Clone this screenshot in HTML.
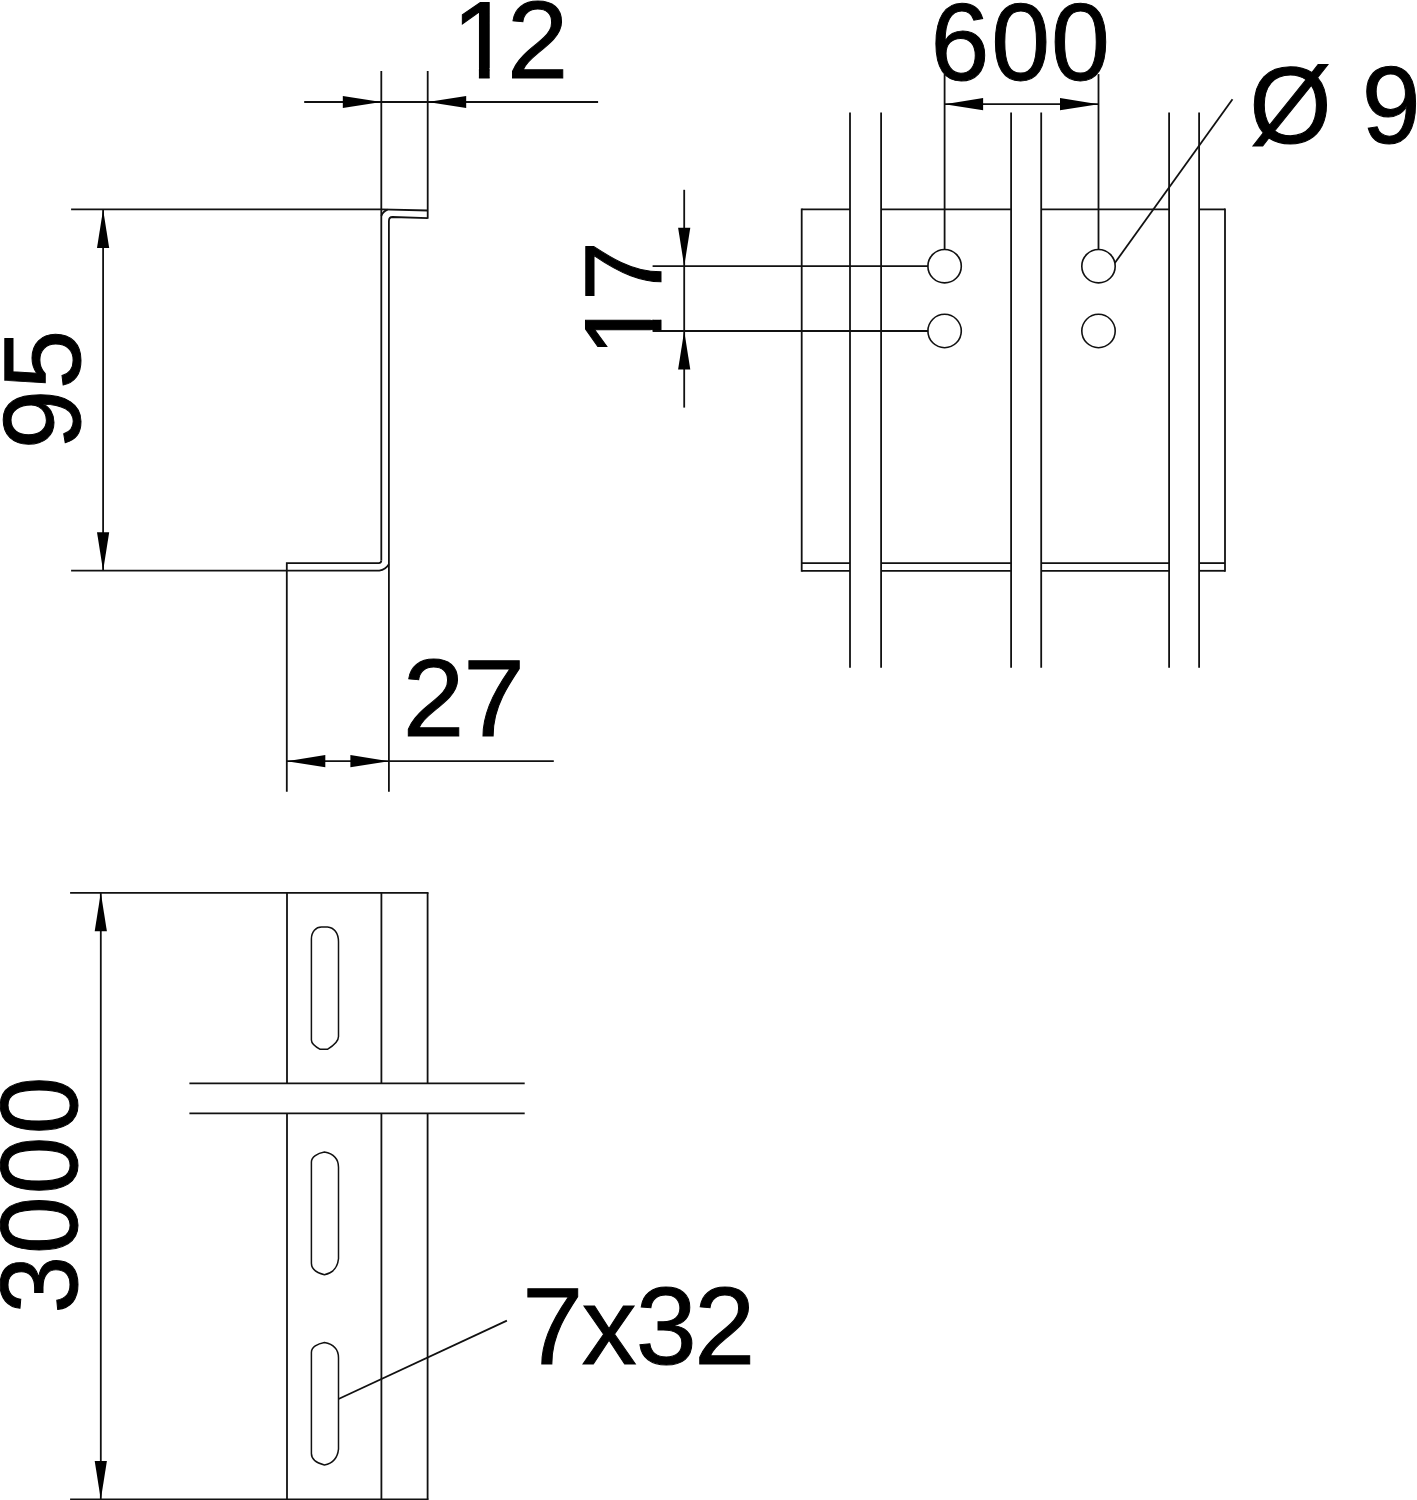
<!DOCTYPE html>
<html lang="en">
<head>
<meta charset="utf-8">
<title>Technical drawing</title>
<style>
html,body{margin:0;padding:0;background:#fff;}
body{width:1417px;height:1500px;overflow:hidden;}
svg{display:block;}
.g line,.g path,.g circle,.g rect{stroke:#111;stroke-width:1.8;fill:none;stroke-linecap:butt;}
.g .a{fill:#000;stroke:none;}
.g .s{stroke-width:1.5;}
.g circle{stroke-width:1.6;}
text{font-family:"Liberation Sans",sans-serif;font-size:108px;fill:#000;stroke:#000;stroke-width:1.0px;stroke-linejoin:miter;}
</style>
</head>
<body>
<svg width="1417" height="1500" viewBox="0 0 1417 1500">
<defs>
<clipPath id="c1" clipPathUnits="userSpaceOnUse">
<rect x="-20" y="-130" width="420" height="120.4"/>
<rect x="26.65" y="-130" width="10.55" height="140"/>
<rect x="56.5" y="-130" width="344" height="160"/>
</clipPath>
</defs>
<rect width="1417" height="1500" fill="#fff"/>
<g class="g">
<line x1="381.3" y1="71" x2="381.3" y2="560.6"/>
<line x1="427.7" y1="71" x2="427.7" y2="218.7"/>
<line x1="304.2" y1="102.0" x2="598.1" y2="102.0"/>
<polygon class="a" points="381.3,102.0 342.80,108.10 342.80,95.90"/>
<polygon class="a" points="427.7,102.0 466.20,95.90 466.20,108.10"/>
<line x1="71.1" y1="209.4" x2="381.3" y2="209.4"/>
<line x1="71.1" y1="570.7" x2="286.8" y2="570.7"/>
<line x1="103.1" y1="209.4" x2="103.1" y2="570.7"/>
<polygon class="a" points="103.1,209.4 109.20,247.90 97.00,247.90"/>
<polygon class="a" points="103.1,570.7 97.00,532.20 109.20,532.20"/>
<path d="M381.3,209.4 L427.7,210.5"/>
<path d="M427.7,218.2 L392.5,217.0 Q388.9,217.0 388.9,221.2 L388.9,791.8"/>
<path d="M381.3,215.8 Q383.1,211.2 387.6,209.6"/>
<path d="M286.8,791.8 L286.8,563.1 L378.8,563.1 Q381.3,563.1 381.3,560.6"/>
<path d="M286.8,570.7 L379.3,570.7 Q385.6,569.6 388.9,564.2"/>
<line x1="286.8" y1="761.2" x2="553.8" y2="761.2"/>
<polygon class="a" points="286.8,761.2 325.30,755.10 325.30,767.30"/>
<polygon class="a" points="388.9,761.2 350.40,767.30 350.40,755.10"/>
<line x1="850" y1="112.4" x2="850" y2="667.8"/>
<line x1="881.1" y1="112.4" x2="881.1" y2="667.8"/>
<line x1="1011.1" y1="112.4" x2="1011.1" y2="667.8"/>
<line x1="1041.2" y1="112.4" x2="1041.2" y2="667.8"/>
<line x1="1169.1" y1="112.4" x2="1169.1" y2="667.8"/>
<line x1="1199.1" y1="112.4" x2="1199.1" y2="667.8"/>
<line x1="801.7" y1="209.4" x2="850" y2="209.4"/>
<line x1="881.1" y1="209.4" x2="1011.1" y2="209.4"/>
<line x1="1041.2" y1="209.4" x2="1169.1" y2="209.4"/>
<line x1="1199.1" y1="209.4" x2="1225" y2="209.4"/>
<line x1="801.7" y1="563.1" x2="850" y2="563.1"/>
<line x1="881.1" y1="563.1" x2="1011.1" y2="563.1"/>
<line x1="1041.2" y1="563.1" x2="1169.1" y2="563.1"/>
<line x1="1199.1" y1="563.1" x2="1225" y2="563.1"/>
<line x1="801.7" y1="570.8" x2="850" y2="570.8"/>
<line x1="881.1" y1="570.8" x2="1011.1" y2="570.8"/>
<line x1="1041.2" y1="570.8" x2="1169.1" y2="570.8"/>
<line x1="1199.1" y1="570.8" x2="1225" y2="570.8"/>
<line x1="801.7" y1="208.5" x2="801.7" y2="571.6999999999999"/>
<line x1="1225" y1="208.5" x2="1225" y2="571.6999999999999"/>
<circle cx="944.6" cy="266.2" r="16.7"/>
<circle cx="944.6" cy="331" r="16.7"/>
<circle cx="1098.5" cy="266.2" r="16.7"/>
<circle cx="1098.5" cy="331" r="16.7"/>
<line x1="944.6" y1="74.1" x2="944.6" y2="249.8"/>
<line x1="1098.5" y1="74.1" x2="1098.5" y2="249.8"/>
<line x1="944.6" y1="104.2" x2="1098.5" y2="104.2"/>
<polygon class="a" points="944.6,104.2 983.10,98.10 983.10,110.30"/>
<polygon class="a" points="1098.5,104.2 1060.00,110.30 1060.00,98.10"/>
<line x1="652.6" y1="266.2" x2="928.2" y2="266.2"/>
<line x1="652.6" y1="331" x2="928.2" y2="331"/>
<line x1="684.2" y1="189.8" x2="684.2" y2="407.6"/>
<polygon class="a" points="684.2,266.2 678.10,227.70 690.30,227.70"/>
<polygon class="a" points="684.2,331 690.30,369.50 678.10,369.50"/>
<line x1="1232.5" y1="99.3" x2="1114.8" y2="263"/>
<line x1="70.1" y1="892.8" x2="428.5" y2="892.8"/>
<line x1="70.1" y1="1499.5" x2="428.5" y2="1499.5"/>
<line x1="100.8" y1="892.8" x2="100.8" y2="1499.5"/>
<polygon class="a" points="100.8,892.8 106.90,931.30 94.70,931.30"/>
<polygon class="a" points="100.8,1499.5 94.70,1461.00 106.90,1461.00"/>
<line x1="287" y1="892.8" x2="287" y2="1083.3"/>
<line x1="287" y1="1113.4" x2="287" y2="1499.5"/>
<line x1="381.4" y1="892.8" x2="381.4" y2="1083.3"/>
<line x1="381.4" y1="1113.4" x2="381.4" y2="1499.5"/>
<line x1="427.6" y1="892.8" x2="427.6" y2="1083.3"/>
<line x1="427.6" y1="1113.4" x2="427.6" y2="1499.5"/>
<line x1="189.4" y1="1083.3" x2="524.7" y2="1083.3"/>
<line x1="189.4" y1="1113.4" x2="524.7" y2="1113.4"/>
<path class="s" d="M311.4,939 C311.4,931.5 316,926.9 321.5,926.9 L327.5,926.9 C334,927.4 338.5,933 338.5,941.8 L338.5,1036.6 C338.5,1042 333.5,1045.8 327.4,1049.3 L320.2,1049.3 C315.5,1046.8 311.4,1044 311.4,1040 Z"/>
<path class="s" d="M311.4,1162.0 C311.4,1157.0 317.4,1153.2 324.4,1152.0 C332.4,1153.5 338.5,1158.0 338.5,1167.3 L338.5,1258.8 C337.5,1268.8 331.4,1273.3 324.4,1274.8 C318.4,1273.3 311.4,1269.8 311.4,1263.3 Z"/>
<path class="s" d="M311.4,1352.4 C311.4,1347.4 317.4,1343.6 324.4,1342.4 C332.4,1343.9 338.5,1348.4 338.5,1357.7 L338.5,1449.1 C337.5,1459.1 331.4,1463.6 324.4,1465.1 C318.4,1463.6 311.4,1460.1 311.4,1453.6 Z"/>
<line x1="338.5" y1="1399.0" x2="506.9" y2="1320.6"/>
</g>
<g class="t">
<text transform="translate(451.73,77.8) scale(1.02,1.017)" x="0.00 54.10" clip-path="url(#c1)">12</text>
<text transform="translate(402.77,736.2) scale(1.025,1.017)" x="0.00 59.07">27</text>
<text transform="translate(930.51,80.0) scale(0.98,1.017)" x="0.00 61.90 122.87">600</text>
<text transform="translate(1249.29,143.2) scale(0.98,1.017)" x="0.00 80.00 114.70">Ø 9</text>
<text transform="translate(522.16,1364.4) scale(1.015,1.017)" x="0.00 58.72 111.99 169.61">7x32</text>
<text transform="translate(79.5,449.16) rotate(-90) scale(0.99,1.017)" x="0.00 60.53">95</text>
<text transform="translate(660.5,356.88) rotate(-90) scale(1.0,1.017)" x="0.00 55.95" clip-path="url(#c1)">17</text>
<text transform="translate(77.2,1313.53) rotate(-90) scale(0.96,1.017)" x="0.00 61.98 124.27 186.66">3000</text>
</g>
</svg>
</body>
</html>
